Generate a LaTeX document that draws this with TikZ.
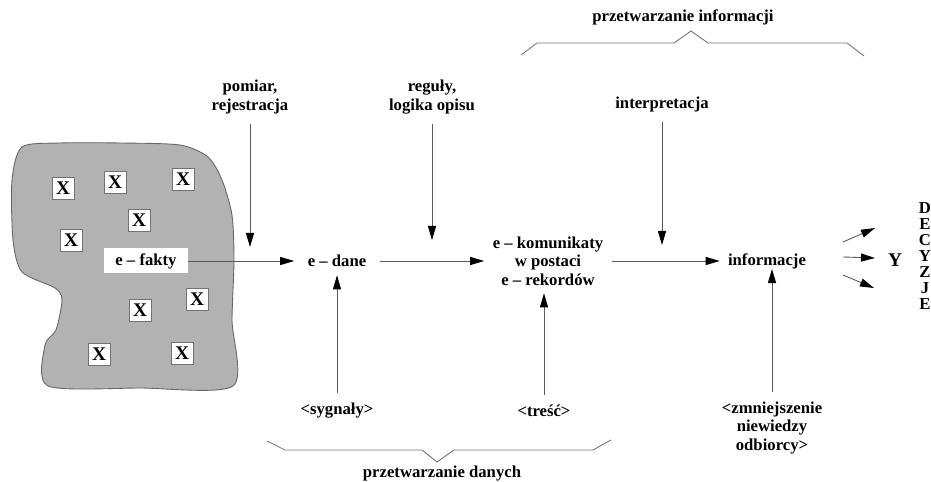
\documentclass[tikz,border=0pt]{standalone}
\usepackage{fontspec}
\setmainfont{Liberation Serif}
\usepackage{tikz}
\usetikzlibrary{arrows.meta}

\begin{document}
\begin{tikzpicture}[x=0.02cm,y=-0.02cm,
    font=\bfseries\fontsize{9.5}{10.5}\selectfont,
    main/.style={inner sep=0pt,align=center},
    lab/.style={inner sep=0.2cm,align=center},
    xbox/.style={draw=black!55,fill=white,minimum size=0.44cm,inner sep=0pt,
      font=\bfseries\fontsize{11}{12}\selectfont},
    arr/.style={draw=black!65,line width=0.5pt,-{Triangle[length=8pt,width=4.6pt,black]}},
    brace/.style={draw=black!55,line width=0.5pt}]
    \useasboundingbox (0,0) rectangle (931,482);

    \filldraw[fill=black!30,draw=black!60,line width=0.5pt]
      plot[smooth cycle,tension=0.45] coordinates {(12,180) (22,147) (60,143) (120,143)
      (180,145) (208,157) (222,180) (232,215) (234,260) (232,320) (233,386) (140,388)
      (48,386) (45,345) (56,330) (62,300) (55,288) (22,272) (13,240)};

    \node[xbox] (x1) at (63,188) {X};
    \node[xbox] (x2) at (115,182) {X};
    \node[xbox] (x3) at (183,179) {X};
    \node[xbox] (x4) at (139,220) {X};
    \node[xbox] (x5) at (71,240) {X};
    \node[xbox] (x6) at (197,299) {X};
    \node[xbox] (x7) at (140,310) {X};
    \node[xbox] (x8) at (99,354) {X};
    \node[xbox] (x9) at (182,353) {X};

    \node[fill=white,minimum width=1.68cm,minimum height=0.5cm,inner sep=0pt] (1) at (146,261) {e – fakty};
    \node[main,minimum width=1.7cm,minimum height=0.56cm] (2) at (337,261) {e – dane};
    \node[main,minimum width=2.54cm,minimum height=1.28cm] (3) at (548,261) {e – komunikaty\\w postaci\\e – rekordów};
    \node[main,minimum width=1.88cm,minimum height=0.28cm] (4) at (767,261) {informacje};

    \node[lab] (5) at (250,97) {pomiar,\\rejestracja};
    \node[lab] (6) at (432,97) {reguły,\\logika opisu};
    \node[lab] (7) at (662,104) {interpretacja};
    \node[lab] (8) at (337,411) {<sygnały>};
    \node[lab] (9) at (544,411) {<treść>};
    \node[lab] (10) at (772,428) {<zmniejszenie\\niewiedzy\\odbiorcy>};

    \node (11) at (895,260) {\fontsize{11}{12}\selectfont Y};
    \node[align=center,font=\bfseries\fontsize{9.5}{9.1}\selectfont] (12) at (925,256) {D\\E\\C\\Y\\Z\\J\\E};

    \coordinate (c5) at (250,247);
    \coordinate (c6) at (432,240);
    \coordinate (c7) at (662,245);
    \coordinate (d1) at (843,242);
    \coordinate (e1) at (875,228);
    \coordinate (d2) at (843,257);
    \coordinate (e2) at (875,258);
    \coordinate (d3) at (843,275);
    \coordinate (e3) at (874,288);

    \path[every edge/.style={arr}]
    (1) edge (2)
    (2) edge (3)
    (3) edge (4)
    (5) edge (c5)
    (6) edge (c6)
    (7) edge (c7)
    (8) edge (2)
    (9) edge (9 |- 3.south)
    (10) edge (10 |- 4.south)
    (d1) edge (e1)
    (d2) edge (e2)
    (d3) edge (e3)
    ;

    \draw[brace] (521,55) -- (537,43) -- (674,43) -- (691,31) -- (708,43) -- (847,43) -- (864,56);
    \node (13) at (683,17) {przetwarzanie informacji};
    \draw[brace] (267,441) -- (285,450) -- (422,450) -- (437,462) -- (454,450) -- (593,450) -- (611,440);
    \node (14) at (442,474) {przetwarzanie danych};
\end{tikzpicture}
\end{document}
